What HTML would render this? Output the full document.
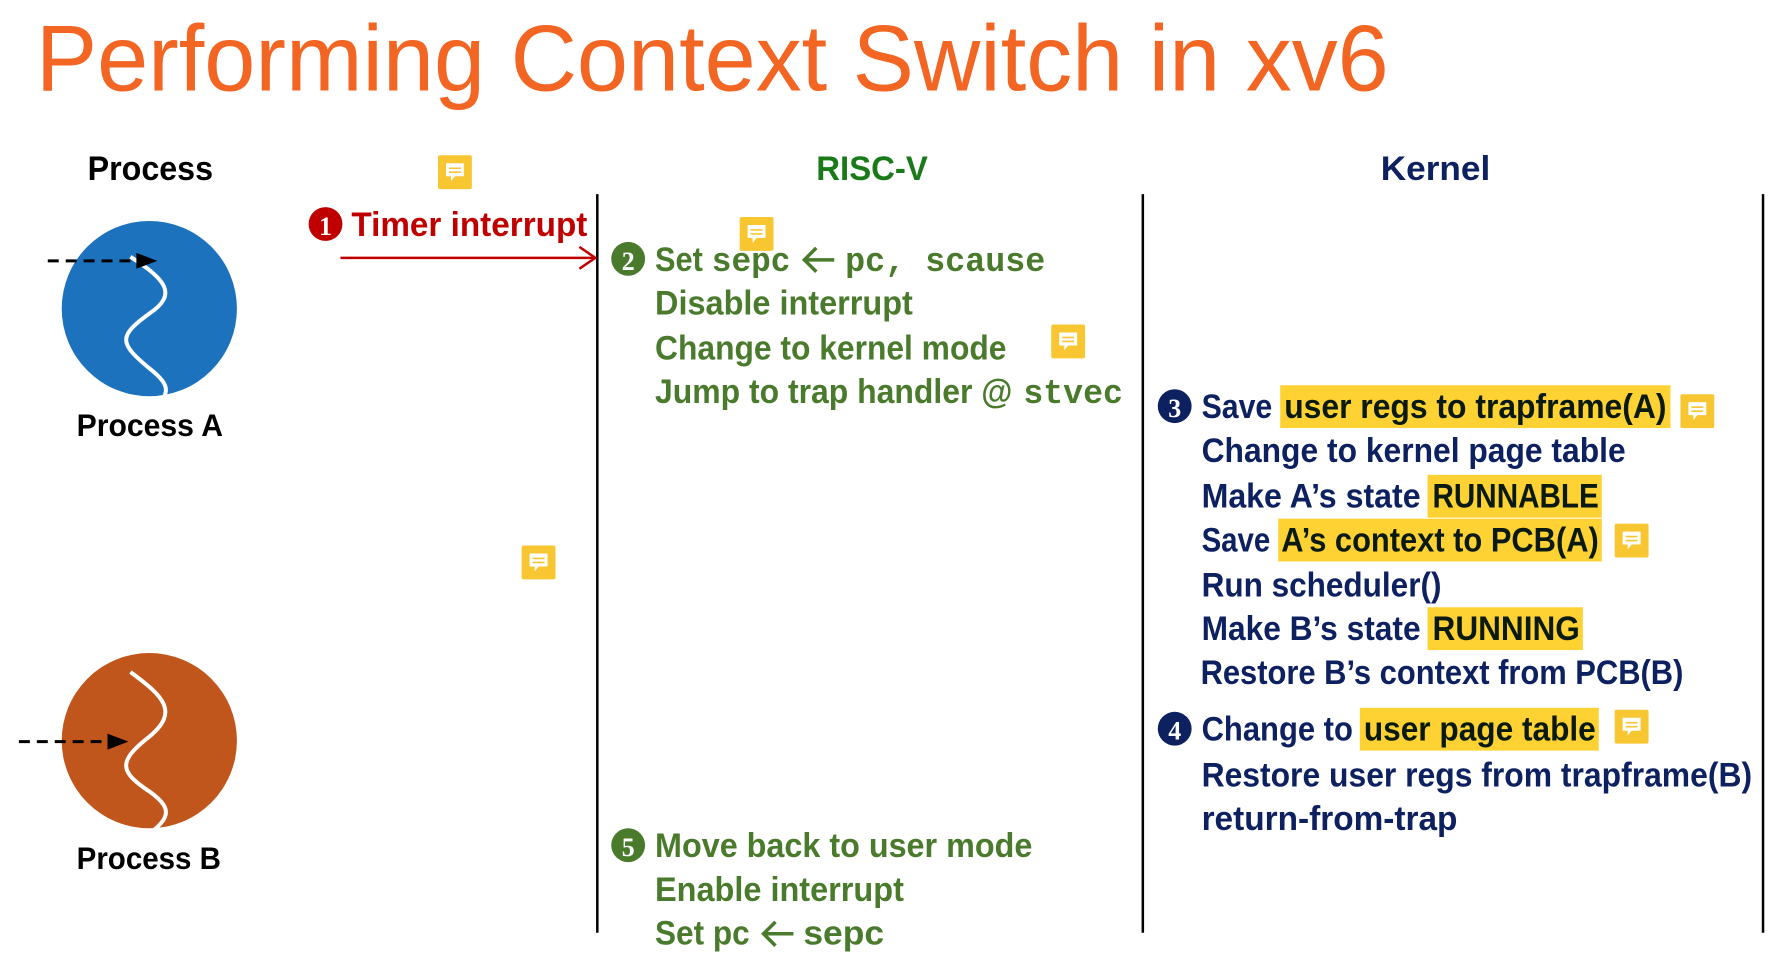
<!DOCTYPE html>
<html><head><meta charset="utf-8"><style>
html,body{margin:0;padding:0;background:#fff;width:1777px;height:959px;overflow:hidden}
svg{display:block}
text{font-family:"Liberation Sans",sans-serif;font-weight:bold}
.m{font-family:"Liberation Mono",monospace}
.g{fill:#4a7a2c}.n{fill:#0d2060}.k{fill:#0a1a10}
</style></head><body>
<svg width="1777" height="959" viewBox="0 0 1777 959" xmlns="http://www.w3.org/2000/svg">
<defs>
<g id="note"><rect x="0" y="0" width="34" height="34" rx="2" fill="#f8c630"/><path d="M8 8h18v13h-9l-4 5v-5h-5z" fill="#fff"/><path d="M11 13h12M11 17h12" stroke="#f8c630" stroke-width="1.6"/></g>
</defs>
<g transform="scale(0.9955)">
<text x="36" y="91" font-size="94" fill="#f26522" style="font-weight:normal" textLength="1359" lengthAdjust="spacingAndGlyphs">Performing Context Switch in xv6</text>

<text x="88" y="181" font-size="34" fill="#000" textLength="126" lengthAdjust="spacingAndGlyphs">Process</text>
<text x="820" y="181" font-size="34" fill="#1a7a1a" textLength="112" lengthAdjust="spacingAndGlyphs">RISC-V</text>
<text x="1387" y="181" font-size="34" fill="#0d2060" textLength="110" lengthAdjust="spacingAndGlyphs">Kernel</text>

<g stroke="#000" stroke-width="2.5">
<line x1="600" y1="195" x2="600" y2="937"/>
<line x1="1148" y1="195" x2="1148" y2="937"/>
<line x1="1771" y1="195" x2="1771" y2="937"/>
</g>

<circle cx="150" cy="310" r="88" fill="#1c72bd"/>
<path d="M131 258 C165 280,180 295,150 315 C118 338,120 345,150 370 C178 392,170 400,132 425" stroke="#fff" stroke-width="4" fill="none"/>
<line x1="48" y1="262" x2="140" y2="262" stroke="#000" stroke-width="3" stroke-dasharray="11 7"/>
<path d="M137 254 L158 262 L137 270 Z" fill="#000"/>
<text x="77" y="438" font-size="32" fill="#000" textLength="147" lengthAdjust="spacingAndGlyphs">Process A</text>

<circle cx="150" cy="744" r="88" fill="#c0561c"/>
<path d="M131 675 C165 700,180 715,150 740 C118 765,120 775,150 795 C178 815,170 825,132 850" stroke="#fff" stroke-width="4" fill="none"/>
<line x1="19" y1="745" x2="112" y2="745" stroke="#000" stroke-width="3" stroke-dasharray="11 7"/>
<path d="M108 737 L129 745 L108 753 Z" fill="#000"/>
<text x="77" y="873" font-size="32" fill="#000" textLength="145" lengthAdjust="spacingAndGlyphs">Process B</text>

<circle cx="327" cy="225" r="17" fill="#c00000"/>
<text x="327" y="236" font-size="26" fill="#fff" text-anchor="middle" style="font-family:'Liberation Serif',serif">1</text>
<text x="353" y="237" font-size="34" fill="#c00000" textLength="237" lengthAdjust="spacingAndGlyphs">Timer interrupt</text>
<line x1="342" y1="259" x2="598" y2="259" stroke="#c00000" stroke-width="2.5"/>
<path d="M582 248 L598 259 L582 270" stroke="#c00000" stroke-width="2.5" fill="none"/>

<!-- step 2 -->
<circle cx="631" cy="260" r="17" fill="#4a7a2c"/>
<text x="631" y="271" font-size="26" fill="#fff" text-anchor="middle" style="font-family:'Liberation Serif',serif">2</text>
<text x="658" y="272" font-size="34" class="g" textLength="48" lengthAdjust="spacingAndGlyphs">Set</text>
<text x="715" y="272" font-size="34" class="g m" textLength="79" lengthAdjust="spacingAndGlyphs">sepc</text>
<path d="M838 261 H808 M820 249 L808 261 L820 273" stroke="#4a7a2c" stroke-width="3.5" fill="none"/>
<text x="849" y="272" font-size="34" class="g m" textLength="201" lengthAdjust="spacingAndGlyphs">pc, scause</text>
<text x="658" y="316" font-size="34" class="g" textLength="259" lengthAdjust="spacingAndGlyphs">Disable interrupt</text>
<text x="658" y="361" font-size="34" class="g" textLength="353" lengthAdjust="spacingAndGlyphs">Change to kernel mode</text>
<text x="658" y="405" font-size="34" class="g" textLength="359" lengthAdjust="spacingAndGlyphs">Jump to trap handler @</text>
<text x="1028" y="405" font-size="34" class="g m" textLength="100" lengthAdjust="spacingAndGlyphs">stvec</text>

<!-- step 5 -->
<circle cx="631" cy="849" r="17" fill="#4a7a2c"/>
<text x="631" y="860" font-size="26" fill="#fff" text-anchor="middle" style="font-family:'Liberation Serif',serif">5</text>
<text x="658" y="861" font-size="34" class="g" textLength="379" lengthAdjust="spacingAndGlyphs">Move back to user mode</text>
<text x="658" y="905" font-size="34" class="g" textLength="250" lengthAdjust="spacingAndGlyphs">Enable interrupt</text>
<text x="658" y="949" font-size="34" class="g" textLength="95" lengthAdjust="spacingAndGlyphs">Set pc</text>
<path d="M797 938 H767 M779 926 L767 938 L779 950" stroke="#4a7a2c" stroke-width="3.5" fill="none"/>
<text x="807" y="949" font-size="34" class="g" textLength="81" lengthAdjust="spacingAndGlyphs">sepc</text>

<!-- highlights -->
<g fill="#fdd232">
<rect x="1286" y="387" width="392" height="43"/>
<rect x="1434" y="477" width="175" height="43"/>
<rect x="1284" y="521" width="325" height="43"/>
<rect x="1434" y="610" width="156" height="43"/>
<rect x="1366" y="711" width="240" height="43"/>
</g>

<!-- step 3 -->
<circle cx="1180" cy="408" r="17" fill="#0d2060"/>
<text x="1180" y="419" font-size="26" fill="#fff" text-anchor="middle" style="font-family:'Liberation Serif',serif">3</text>
<text x="1207" y="420" font-size="34" class="n" textLength="71" lengthAdjust="spacingAndGlyphs">Save</text>
<text x="1290" y="420" font-size="34" class="k" textLength="384" lengthAdjust="spacingAndGlyphs">user regs to trapframe(A)</text>
<text x="1207" y="464" font-size="34" class="n" textLength="426" lengthAdjust="spacingAndGlyphs">Change to kernel page table</text>
<text x="1207" y="510" font-size="34" class="n" textLength="220" lengthAdjust="spacingAndGlyphs">Make A’s state</text>
<text x="1439" y="510" font-size="34" class="k" textLength="167" lengthAdjust="spacingAndGlyphs">RUNNABLE</text>
<text x="1207" y="554" font-size="34" class="n" textLength="69" lengthAdjust="spacingAndGlyphs">Save</text>
<text x="1287" y="554" font-size="34" class="k" textLength="319" lengthAdjust="spacingAndGlyphs">A’s context to PCB(A)</text>
<text x="1207" y="599" font-size="34" class="n" textLength="241" lengthAdjust="spacingAndGlyphs">Run scheduler()</text>
<text x="1207" y="643" font-size="34" class="n" textLength="220" lengthAdjust="spacingAndGlyphs">Make B’s state</text>
<text x="1439" y="643" font-size="34" class="k" textLength="148" lengthAdjust="spacingAndGlyphs">RUNNING</text>
<text x="1206" y="687" font-size="34" class="n" textLength="485" lengthAdjust="spacingAndGlyphs">Restore B’s context from PCB(B)</text>

<!-- step 4 -->
<circle cx="1180" cy="732" r="17" fill="#0d2060"/>
<text x="1180" y="743" font-size="26" fill="#fff" text-anchor="middle" style="font-family:'Liberation Serif',serif">4</text>
<text x="1207" y="744" font-size="34" class="n" textLength="152" lengthAdjust="spacingAndGlyphs">Change to</text>
<text x="1370" y="744" font-size="34" class="k" textLength="233" lengthAdjust="spacingAndGlyphs">user page table</text>
<text x="1207" y="790" font-size="34" class="n" textLength="553" lengthAdjust="spacingAndGlyphs">Restore user regs from trapframe(B)</text>
<text x="1207" y="834" font-size="34" class="n" textLength="257" lengthAdjust="spacingAndGlyphs">return-from-trap</text>

<!-- notes -->
<use href="#note" x="440" y="156"/>
<use href="#note" x="743" y="218"/>
<use href="#note" x="1056" y="326"/>
<use href="#note" x="524" y="548"/>
<use href="#note" x="1688" y="396"/>
<use href="#note" x="1622" y="526"/>
<use href="#note" x="1622" y="713"/>
</g>
</svg>
</body></html>
